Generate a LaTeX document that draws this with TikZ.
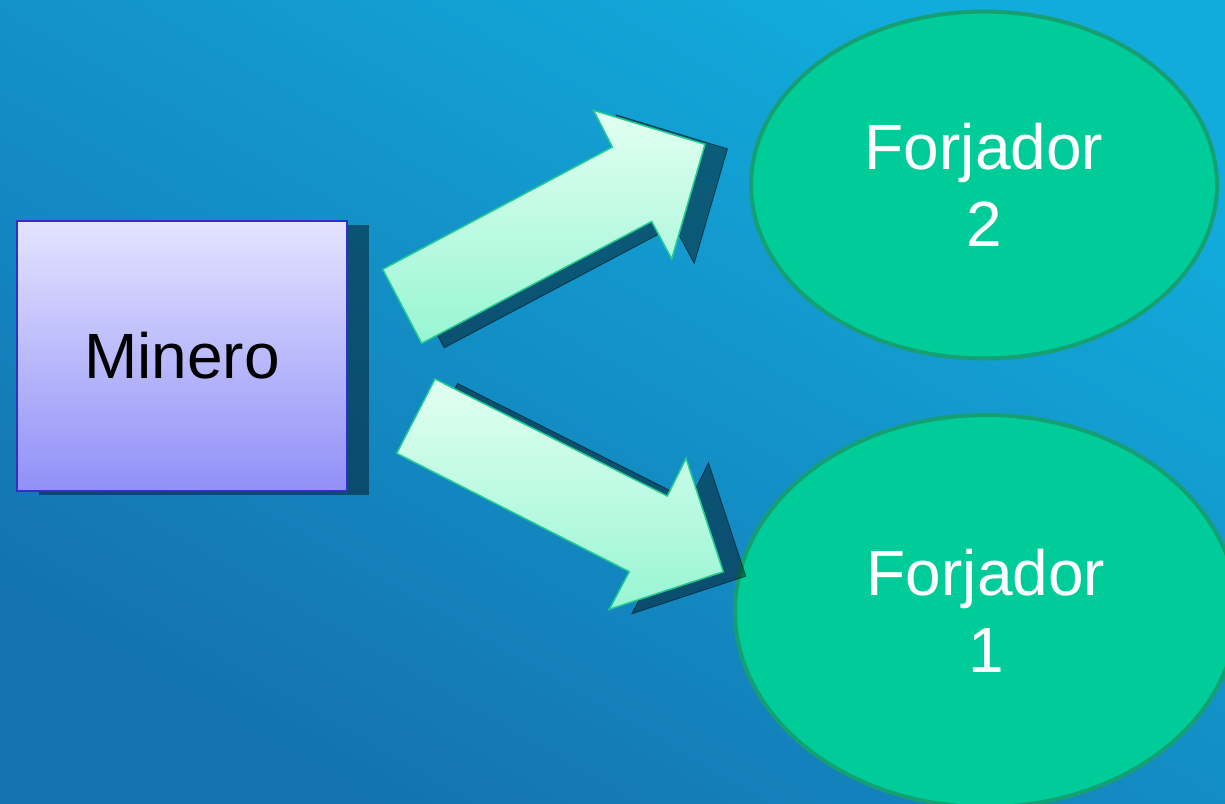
\documentclass[tikz,border=0pt]{standalone}
\usepackage{fontspec}
\setmainfont{Liberation Sans}
\usetikzlibrary{shapes.geometric,shadows}
\definecolor{bgtop}{HTML}{12ACDC}
\definecolor{bgbot}{HTML}{1472B0}
\definecolor{minline}{HTML}{3030C8}
\definecolor{mintop}{HTML}{E4E4FF}
\definecolor{minbot}{HTML}{9090F8}
\definecolor{arrtop}{HTML}{E2FFF2}
\definecolor{arrbot}{HTML}{98F5D4}
\definecolor{arrline}{HTML}{20CC90}
\definecolor{forjfill}{HTML}{00CC99}
\definecolor{forjline}{HTML}{14A072}
\begin{document}
\begin{tikzpicture}[x=1pt,y=-1pt,
  minbox/.style={rectangle, draw=minline, line width=2pt,
    top color=mintop, bottom color=minbot,
    minimum width=330pt, minimum height=270pt, inner sep=0pt,
    font=\fontsize{64}{77}\selectfont, text=black,
    drop shadow={shadow xshift=22pt, shadow yshift=-4pt, fill=black, opacity=.42}},
  forj/.style={ellipse, draw=forjline, line width=4pt, fill=forjfill,
    inner sep=0pt, text=white, align=center,
    font=\fontsize{64}{77.6}\selectfont},
  arrbody/.style={draw=arrline, line width=1.5pt, top color=arrtop, bottom color=arrbot},
  arrshadow/.style={fill=black, fill opacity=.42, draw=black, draw opacity=.5, line width=.8pt},
  uparr/.style={insert path={(382.7,269.3) -- (421.7,343.3) -- (651.7,221.5) -- (671.7,259) -- (705,144.3) -- (593.5,110.3) -- (612.3,147) -- cycle}},
  dnarr/.style={insert path={(435,379) -- (396.7,453.3) -- (629.3,571.7) -- (609.3,609.3) -- (723.3,571.7) -- (686,458.3) -- (667.3,496) -- cycle}}
]
\useasboundingbox (0,0) rectangle (1225,803);
\clip (0,0) rectangle (1225,803);
\shade[top color=bgtop, bottom color=bgbot, shading angle=-30] (0,0) rectangle (1225,803);

\node[forj, minimum width=466pt, minimum height=347pt] (f2) at (984,185) {Forjador\\2};
\node[forj, minimum width=502pt, minimum height=392pt] (f1) at (986,611) {Forjador\\1};

\node[minbox] (min) at (182,356) {Minero};

\path[arrshadow, shift={(22.5,4.5)}, uparr];
\path[arrshadow, shift={(22.5,4.5)}, dnarr];
\path[arrbody, uparr];
\path[arrbody, dnarr];
\end{tikzpicture}
\end{document}
